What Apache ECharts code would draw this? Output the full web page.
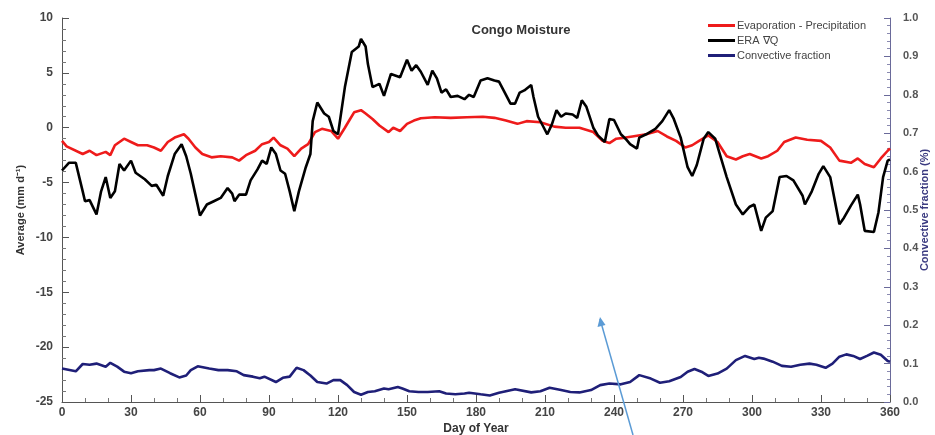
<!DOCTYPE html>
<html>
<head>
<meta charset="utf-8">
<script src="https://cdn.jsdelivr.net/npm/echarts@6/dist/echarts.min.js"></script>
<style>html,body{margin:0;padding:0;background:#fff;}#c{width:935px;height:435px;}</style>
</head>
<body>
<div id="c"></div>
<script>
// ERA ∇Q (left axis, mm/day)
const qDays = [0,3,6,9,10,12,15,17,19,21,23,25,27,30,32,36,39,41,44,46,49,52,54,56,58,60,63,66,69,72,74,75,77,80,82,85,87,89,91,93,95,97,99,101,103,106,108,109,111,114,116,118,120,123,126,129,130,132,133,135,138,140,143,147,150,152,154,156,159,161,163,165,167,169,172,175,177,179,182,185,188,190,192,195,197,199,201,204,205,207,209,211,213,215,217,219,222,224,226,228,231,233,236,238,240,243,245,247,250,251,254,258,261,264,266,269,272,274,276,279,281,284,286,289,293,296,299,301,304,306,309,312,315,318,322,323,326,329,331,334,338,340,343,346,347,349,353,355,357,359,360];
const qVals = [-3.9,-3.2,-3.2,-5.8,-6.7,-6.6,-7.9,-5.8,-4.5,-6.4,-5.8,-3.3,-3.9,-3.0,-4.1,-4.7,-5.3,-5.2,-6.2,-4.4,-2.4,-1.5,-2.6,-4.2,-6.1,-8.0,-7.0,-6.7,-6.4,-5.5,-6.0,-6.7,-6.1,-6.1,-4.8,-3.8,-3.0,-3.3,-1.8,-2.4,-3.9,-4.2,-5.8,-7.6,-5.8,-3.6,-2.4,0.6,2.3,1.3,1.0,-0.3,-0.6,3.7,6.9,7.4,8.1,7.4,5.8,3.7,4.0,2.9,4.9,4.6,6.2,5.2,5.7,5.1,3.9,5.2,4.5,3.2,3.5,2.8,2.9,2.6,3.0,2.8,4.3,4.5,4.3,4.2,3.4,2.2,2.2,3.2,3.4,3.9,2.8,1.0,0.2,-0.6,0.3,1.6,1.0,1.3,1.2,0.9,2.5,1.9,0.0,-0.7,-1.3,0.8,0.7,-0.6,-1.0,-1.5,-1.9,-0.9,-0.6,-0.1,0.6,1.6,0.8,-0.9,-3.6,-4.4,-3.4,-1.0,-0.4,-1.0,-2.4,-4.5,-7.0,-7.9,-7.2,-7.0,-9.4,-8.2,-7.6,-4.5,-4.4,-4.8,-6.2,-7.0,-5.8,-4.2,-3.5,-4.5,-8.8,-8.2,-7.1,-6.1,-7.0,-9.4,-9.5,-7.7,-4.5,-3.0,-2.9];

// Evaporation - Precipitation (left axis, mm/day)
const epDays = [0,2,9,12,15,19,21,23,27,30,33,37,40,43,46,49,53,55,58,61,65,69,74,77,80,84,87,90,92,95,98,101,104,107,110,113,117,120,123,125,127,130,132,135,138,142,144,147,150,153,156,162,169,176,183,188,193,198,202,208,214,219,225,231,235,238,241,245,248,254,259,263,267,271,274,277,281,285,289,293,296,299,304,307,311,314,319,324,330,334,338,343,346,349,353,356,359,360];
const epVals = [-1.2,-1.7,-2.4,-2.1,-2.5,-2.2,-2.5,-1.6,-1.0,-1.3,-1.6,-1.6,-1.8,-2.1,-1.3,-0.9,-0.6,-1.0,-1.8,-2.4,-2.7,-2.6,-2.7,-3.0,-2.5,-2.1,-1.5,-1.3,-0.9,-1.6,-1.9,-2.6,-1.9,-1.5,-0.4,-0.1,-0.3,-1.0,0.0,0.7,1.4,1.6,1.3,0.8,0.2,-0.4,0.0,-0.3,0.35,0.65,0.86,0.95,0.9,0.95,1.0,0.9,0.65,0.35,0.6,0.5,0.1,0.0,0.0,-0.4,-1.2,-1.4,-1.0,-0.9,-0.8,-0.6,-0.3,-0.8,-1.2,-1.8,-1.6,-1.2,-0.7,-1.3,-2.6,-2.9,-2.6,-2.4,-2.8,-2.6,-2.1,-1.3,-0.9,-1.1,-1.2,-1.8,-3.0,-3.2,-2.8,-3.3,-3.6,-2.8,-2.1,-1.9];

// Convective fraction (right axis)
const cfDays = [0,6,9,12,15,19,21,24,27,30,33,38,40,43,47,51,54,56,59,64,68,72,76,79,83,86,88,93,96,99,102,105,108,111,115,118,121,124,127,130,133,136,140,142,146,148,151,155,159,164,167,171,175,177,182,186,190,197,204,208,212,217,221,225,230,234,238,243,247,251,256,260,264,269,272,275,278,281,285,289,293,297,301,303,305,309,313,317,321,325,328,332,335,338,341,344,347,350,353,356,359,360];
const cfVals = [0.087,0.080,0.099,0.097,0.100,0.092,0.102,0.092,0.079,0.075,0.080,0.083,0.083,0.087,0.075,0.064,0.069,0.083,0.093,0.087,0.083,0.083,0.080,0.070,0.066,0.062,0.066,0.052,0.063,0.066,0.089,0.083,0.069,0.052,0.048,0.057,0.057,0.044,0.026,0.019,0.026,0.028,0.035,0.033,0.039,0.035,0.028,0.026,0.026,0.028,0.022,0.020,0.022,0.024,0.020,0.017,0.024,0.033,0.025,0.028,0.037,0.031,0.026,0.025,0.031,0.044,0.048,0.046,0.052,0.070,0.061,0.050,0.054,0.065,0.079,0.086,0.079,0.068,0.074,0.087,0.109,0.120,0.112,0.115,0.113,0.105,0.094,0.092,0.097,0.100,0.097,0.089,0.100,0.118,0.124,0.120,0.112,0.120,0.129,0.123,0.107,0.105];

const seriesNames = ['Evaporation - Precipitation', 'ERA \u2207Q', 'Convective fraction'];
const xTicks = {min: 0, max: 360, interval: 30};
const leftTicks = {min: -25, max: 10, interval: 5};
const rightTicks = {min: 0, max: 1, interval: 0.1};

const zip = (a, b) => a.map((d, i) => [d, b[i]]);
const FONT = 'Liberation Sans';
const NAVY = '#1f1f78';

const chart = echarts.init(document.getElementById('c'), null, {renderer: 'canvas'});
chart.setOption({
  animation: false,
  backgroundColor: '#ffffff',
  textStyle: {fontFamily: FONT},
  title: {
    text: 'Congo Moisture', left: 516, top: 19, textAlign: 'center',
    textStyle: {fontFamily: FONT, fontSize: 13, fontWeight: 'bold', color: '#333'}
  },
  legend: {
    orient: 'vertical', left: 703, top: 15, itemGap: 4,
    icon: 'rect', itemWidth: 27, itemHeight: 3,
    textStyle: {fontFamily: FONT, fontSize: 11, color: '#444', padding: [0, 0, 0, -3]},
    data: seriesNames
  },
  grid: {left: 62, right: 45, top: 18, bottom: 33, containLabel: false, outerBoundsMode: 'none'},
  xAxis: {
    type: 'value', min: xTicks.min, max: xTicks.max, interval: xTicks.interval,
    name: 'Day of Year', nameLocation: 'middle', nameGap: 21, nameMoveOverlap: false,
    nameTextStyle: {fontFamily: FONT, fontSize: 12, fontWeight: 'bold', color: '#333'},
    axisLine: {show: true, onZero: false, lineStyle: {color: '#555', width: 1}},
    axisTick: {show: true, inside: true, length: 7, lineStyle: {color: '#555'}},
    minorTick: {show: true, splitNumber: 3, length: 4, lineStyle: {color: '#777'}},
    axisLabel: {fontFamily: FONT, fontSize: 12, fontWeight: 'bold', color: '#444', margin: 5},
    splitLine: {show: false}
  },
  yAxis: [{
    type: 'value', position: 'left', min: leftTicks.min, max: leftTicks.max, interval: leftTicks.interval,
    name: 'Average (mm d\u207B\u00B9)', nameLocation: 'middle', nameGap: 36, nameRotate: 90, nameMoveOverlap: false,
    nameTextStyle: {fontFamily: FONT, fontSize: 11, fontWeight: 'bold', color: '#333'},
    axisLine: {show: true, onZero: false, lineStyle: {color: '#555', width: 1}},
    axisTick: {show: true, inside: true, length: 7, lineStyle: {color: '#555'}},
    minorTick: {show: true, splitNumber: 5, length: 4, lineStyle: {color: '#777'}},
    axisLabel: {fontFamily: FONT, fontSize: 12, fontWeight: 'bold', color: '#444', margin: 9},
    splitLine: {show: false}
  }, {
    type: 'value', position: 'right', min: rightTicks.min, max: rightTicks.max, interval: rightTicks.interval,
    name: 'Convective fraction (%)', nameLocation: 'middle', nameGap: 29, nameRotate: 90, nameMoveOverlap: false,
    nameTextStyle: {fontFamily: FONT, fontSize: 11, fontWeight: 'bold', color: '#3a3a80'},
    axisLine: {show: true, onZero: false, lineStyle: {color: '#6a6a9a', width: 1}},
    axisTick: {show: true, inside: true, length: 6, lineStyle: {color: '#6a6a9a'}},
    minorTick: {show: true, splitNumber: 5, length: 3, lineStyle: {color: '#8a8ab0'}},
    axisLabel: {fontFamily: FONT, fontSize: 11, fontWeight: 'bold', color: '#555', margin: 13,
      formatter: v => v.toFixed(1)},
    splitLine: {show: false}
  }],
  series: [{
    name: seriesNames[0], type: 'line', yAxisIndex: 0, showSymbol: false, symbol: 'none',
    data: zip(epDays, epVals), lineStyle: {color: '#ee1b1b', width: 2.6}, itemStyle: {color: '#ee1b1b'}, z: 3
  }, {
    name: seriesNames[1], type: 'line', yAxisIndex: 0, showSymbol: false, symbol: 'none',
    data: zip(qDays, qVals), lineStyle: {color: '#000000', width: 2.6}, itemStyle: {color: '#000000'}, z: 4
  }, {
    name: seriesNames[2], type: 'line', yAxisIndex: 1, showSymbol: false, symbol: 'none',
    data: zip(cfDays, cfVals), lineStyle: {color: NAVY, width: 2.6}, itemStyle: {color: NAVY}, z: 3
  }],
  graphic: [{
    type: 'line', z: 100,
    shape: {x1: 633, y1: 435, x2: 600, y2: 319},
    style: {stroke: '#5b9bd5', lineWidth: 1.5}
  }, {
    type: 'polygon', z: 100,
    shape: {points: [[600, 317], [605.5, 325], [597.5, 327]]},
    style: {fill: '#5b9bd5'}
  }]
});
</script>
</body>
</html>
